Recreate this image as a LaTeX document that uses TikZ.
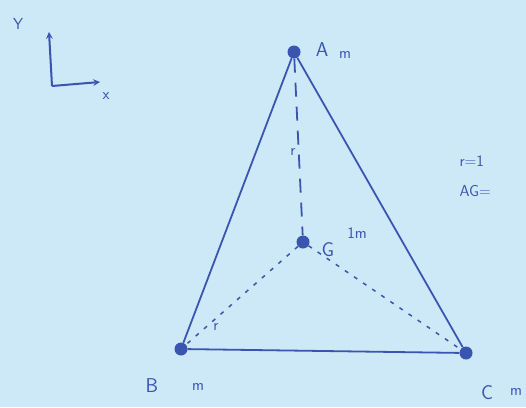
\documentclass[tikz,border=0pt]{standalone}
\usepackage{tikz}
\usetikzlibrary{arrows,calc}
\definecolor{paper}{HTML}{CDE8F7}
\definecolor{ink}{HTML}{3A55B0}

\begin{document}
\begin{tikzpicture}[x=1pt,y=-1pt,
    mass/.style={circle,fill=ink,inner sep=0pt,minimum size=13pt},
    lbl/.style={text=ink,font=\fontsize{20}{24}\selectfont\sffamily},
    sml/.style={text=ink,font=\fontsize{16}{19}\selectfont\sffamily}]
            \fill[paper] (0,0) rectangle (526,407);
            \useasboundingbox (0,0) rectangle (526,407);

            % axes
            \coordinate (O) at (52,86);
            \draw[ink,line width=2pt,-stealth] (O) to (49,32);
            \draw[ink,line width=2pt,-stealth] (O) to (100,82);
            \node[sml] (ylab) at (18,24) {Y};
            \node[sml] (xlab) at (106,96) {x};

            % masses
            \node[mass] (A) at (294,52) {};
            \node[mass] (B) at (181,349) {};
            \node[mass] (C) at (466,353) {};
            \node[mass] (G) at (303,242) {};

            \draw[ink,line width=1.8pt] (A) to (B);
            \draw[ink,line width=1.8pt] (A) to (C);
            \draw[ink,line width=1.8pt] (B) to (C);
            \draw[ink,line width=1.8pt,dash pattern=on 14pt off 10pt] (A) to (G);
            \draw[ink,line width=1.5pt,dash pattern=on 4pt off 7pt] (G) to (B);
            \draw[ink,line width=1.5pt,dash pattern=on 4pt off 7pt] (G) to (C);

            \node[lbl] (Alab) at (322,50) {A};
            \node[sml] (Am) at (345,55) {m};
            \node[lbl] (Blab) at (152,386) {B};
            \node[sml] (Bm) at (198,387) {m};
            \node[lbl] (Clab) at (487,393) {C};
            \node[sml] (Cm) at (516,392) {m};
            \node[lbl] (Glab) at (328,250) {G};
            \node[sml] (Gm) at (357,233) {1m};
            \node[sml] (rAG) at (293,152) {r};
            \node[sml] (rBG) at (216,327) {r};

            \node[sml,anchor=west] (rval) at (456,161) {r=1};
            \node[sml,anchor=west] (AGval) at (456,191) {AG=};
\end{tikzpicture}
\end{document}
